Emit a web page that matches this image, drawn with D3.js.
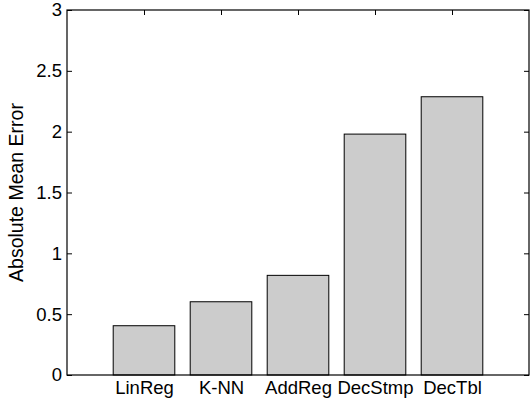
<!DOCTYPE html>
<html>
<head>
<meta charset="utf-8">
<script src="https://cdn.jsdelivr.net/npm/d3@7"></script>
<style>
  html, body { margin: 0; padding: 0; background: #fff; }
  svg { display: block; }
  text { font-family: "Liberation Sans", Arial, sans-serif; fill: #000; }
</style>
</head>
<body>
<svg id="chart" width="531" height="407"></svg>
<script>
// Mean absolute error per regression method
const categories = ["LinReg", "K-NN", "AddReg", "DecStmp", "DecTbl"];
const errors = [0.405, 0.602, 0.819, 1.98, 2.287];
const yTicks = [0, 0.5, 1, 1.5, 2, 2.5, 3];
const yTickLabels = ["0", "0.5", "1", "1.5", "2", "2.5", "3"];

const W = 531, H = 407;
const margin = { left: 67, right: 2, top: 10, bottom: 32 };
const plotW = W - margin.left - margin.right;
const plotH = H - margin.top - margin.bottom;

const svg = d3.select("#chart");
const g = svg.append("g").attr("transform", `translate(${margin.left},${margin.top})`);

// Bars sit at integer positions 1..n, with half-unit-plus margins on each side
const x = d3.scaleLinear().domain([0, categories.length + 1]).range([0, plotW]);
const y = d3.scaleLinear().domain([0, 3]).range([plotH, 0]);
const barWidth = 0.8;
const fontSize = 18.5;
const titleSize = 19.5;

// Frame ticks: top and right point inward, no labels
const topAxis = d3.axisTop(x)
  .tickValues(categories.map((_, i) => i + 1))
  .tickSizeInner(-5).tickSizeOuter(0).tickFormat("");
g.append("g").call(topAxis);

const rightAxis = d3.axisRight(y)
  .tickValues(yTicks).tickSizeInner(-5).tickSizeOuter(0).tickFormat("");
g.append("g").attr("transform", `translate(${plotW},0)`).call(rightAxis);

// Left axis with value labels
const leftAxis = d3.axisLeft(y)
  .tickValues(yTicks)
  .tickFormat((d, i) => yTickLabels[i])
  .tickSizeInner(-5).tickSizeOuter(0).tickPadding(5);
const lg = g.append("g").call(leftAxis);
lg.selectAll("text").style("font-size", fontSize + "px")
  .style("font-family", '"Liberation Sans", Arial, sans-serif');

// Bars drawn above the axis layer
g.append("g").selectAll("rect")
  .data(errors)
  .join("rect")
  .attr("x", (d, i) => x(i + 1 - barWidth / 2))
  .attr("width", x(barWidth) - x(0))
  .attr("y", d => y(d))
  .attr("height", d => y(0) - y(d))
  .attr("fill", "#cccccc")
  .attr("stroke", "#000")
  .attr("stroke-width", 1);

// Bottom axis: category labels, ticks hidden beneath the bars
const bottomAxis = d3.axisBottom(x)
  .tickValues(categories.map((_, i) => i + 1))
  .tickFormat((d, i) => categories[i])
  .tickSize(0).tickPadding(6);
const bg = g.append("g").attr("transform", `translate(0,${plotH})`).call(bottomAxis);
bg.selectAll("text").style("font-size", fontSize + "px")
  .style("font-family", '"Liberation Sans", Arial, sans-serif');

// Axes box
g.selectAll(".domain").remove();
g.append("rect")
  .attr("x", 0).attr("y", 0)
  .attr("width", plotW).attr("height", plotH)
  .attr("fill", "none").attr("stroke", "#000").attr("stroke-width", 1.2);

g.selectAll(".tick line").attr("stroke", "#000");

// Y axis title
svg.append("text")
  .attr("transform", `translate(23,${margin.top + plotH / 2}) rotate(-90)`)
  .attr("text-anchor", "middle")
  .style("font-size", titleSize + "px")
  .text("Absolute Mean Error");
</script>
</body>
</html>
